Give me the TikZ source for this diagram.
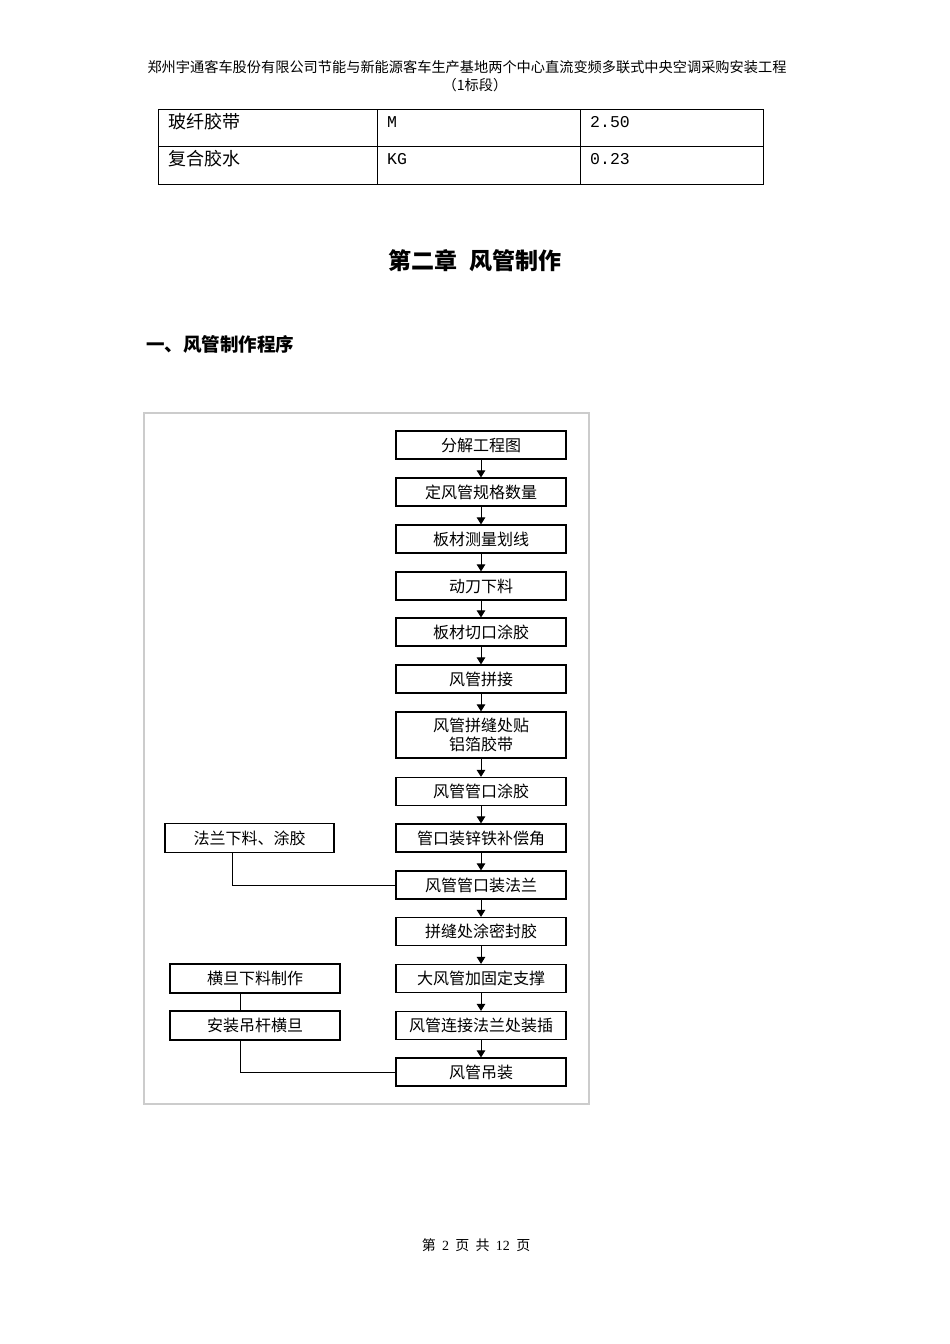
\documentclass[tikz,border=0pt]{standalone}
\usepackage{fontspec}
\setmainfont{Liberation Serif}
\newfontfamily\cjk{Noto Sans CJK SC}
\newfontfamily\monof{Liberation Mono}
\usetikzlibrary{arrows.meta,calc}
\begin{document}
\begin{tikzpicture}[x=1pt,y=-1pt,
  stepbox/.style={draw, line width=1.2pt, minimum width=170pt, minimum height=28pt, inner sep=0pt, align=center,
    font=\cjk\fontsize{16}{19}\selectfont},
  arr/.style={line width=1pt, -{Triangle[length=7pt,width=8.5pt]}},
  link/.style={line width=1pt},
  tline/.style={line width=1pt},
  cjkt/.style={anchor=west, inner sep=0pt, font=\cjk\fontsize{18}{20}\selectfont},
  mont/.style={anchor=west, inner sep=0pt, font=\monof\fontsize{16.5}{18}\selectfont}]
\useasboundingbox (0,0) rectangle (950,1344);
\fill[white] (0,0) rectangle (950,1344);
% header
\node[inner sep=0pt, font=\cjk\fontsize{14.2}{17}\selectfont] (h1) at (467,67) {郑州宇通客车股份有限公司节能与新能源客车生产基地两个中心直流变频多联式中央空调采购安装工程};
\node[inner sep=0pt, font=\cjk\fontsize{14.2}{17}\selectfont] (h2) at (475,85) {（1标段）};
% table
\draw[tline] (158,109) rectangle (763,184);
\draw[tline] (158,146) -- (763,146);
\draw[tline] (377,109) -- (377,184);
\draw[tline] (580,109) -- (580,184);
\node[cjkt] (t11) at (168,122) {玻纤胶带};
\node[mont] (t12) at (387,122) {M};
\node[mont] (t13) at (590,122) {2.50};
\node[cjkt] (t21) at (168,159) {复合胶水};
\node[mont] (t22) at (387,159) {KG};
\node[mont] (t23) at (590,159) {0.23};
% titles
\node[inner sep=0pt, font=\cjk\bfseries\fontsize{23}{26}\selectfont] (title) at (475,261) {第二章\hspace{0.5em}风管制作};
\node[inner sep=0pt, anchor=west, font=\cjk\bfseries\fontsize{18.5}{21}\selectfont] (sub) at (146,344) {一、风管制作程序};
% frame
\draw[line width=1.2pt, draw=black!20] (144,413) rectangle (589,1104);
% main boxes
\node[stepbox] (b1) at (481,445) {分解工程图};
\node[stepbox] (b2) at (481,492) {定风管规格数量};
\node[stepbox] (b3) at (481,539) {板材测量划线};
\node[stepbox] (b4) at (481,586) {动刀下料};
\node[stepbox] (b5) at (481,632) {板材切口涂胶};
\node[stepbox] (b6) at (481,679) {风管拼接};
\node[stepbox, minimum height=46pt] (b7) at (481,735) {风管拼缝处贴\\铝箔胶带};
\node[stepbox] (b8) at (481,791.5) {风管管口涂胶};
\node[stepbox] (b9) at (481,838) {管口装锌铁补偿角};
\node[stepbox] (b10) at (481,885) {风管管口装法兰};
\node[stepbox] (b11) at (481,931.5) {拼缝处涂密封胶};
\node[stepbox] (b12) at (481,978.5) {大风管加固定支撑};
\node[stepbox] (b13) at (481,1025.5) {风管连接法兰处装插};
\node[stepbox] (b14) at (481,1072) {风管吊装};
% side boxes
\node[stepbox, minimum width=169pt, minimum height=29pt] (fl) at (249.5,838) {法兰下料、涂胶};
\node[stepbox, minimum height=29pt] (hd) at (255,978.5) {横旦下料制作};
\node[stepbox, minimum height=29pt] (az) at (255,1025.5) {安装吊杆横旦};
% arrows
\foreach \a/\b in {b1/b2,b2/b3,b3/b4,b4/b5,b5/b6,b6/b7,b7/b8,b8/b9,b9/b10,b10/b11,b11/b12,b12/b13,b13/b14}
  \draw[arr] (\a.south) -- (\b.north);
% side links
\coordinate (c1) at (232,0);
\coordinate (c2) at (240,0);
\draw[link] (fl.south -| c1) |- (b10.west);
\draw[link] (hd.south -| c2) -- (az.north -| c2);
\draw[link] (az.south -| c2) |- (b14.west);
% footer
\node[inner sep=0pt, font=\fontsize{14}{17}\selectfont] (foot) at (476,1245) {\cjk 第\hspace{0.45em}\rmfamily 2\hspace{0.45em}\cjk 页\hspace{0.45em}共\hspace{0.45em}\rmfamily 12\hspace{0.45em}\cjk 页};
\end{tikzpicture}
\end{document}
